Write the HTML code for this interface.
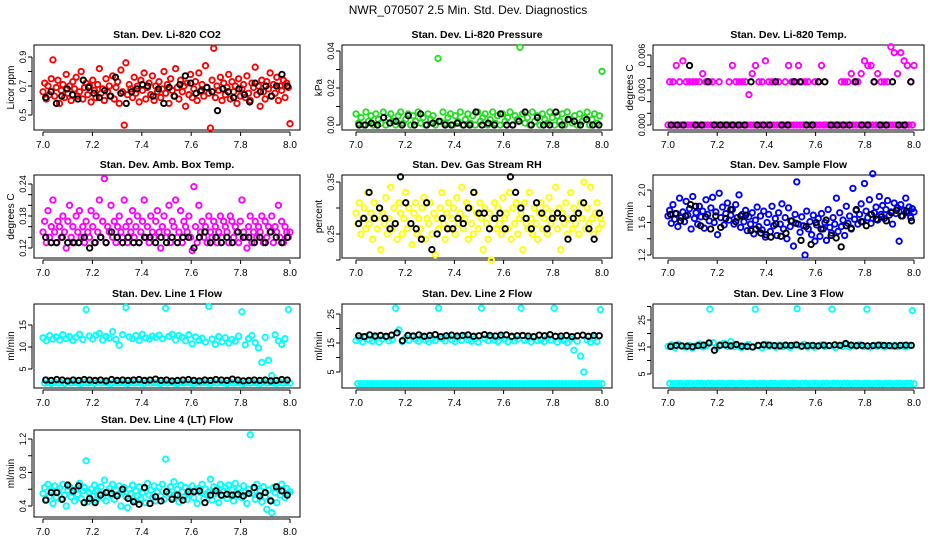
<!DOCTYPE html>
<html><head><meta charset="utf-8"><style>
html,body{margin:0;padding:0;background:#fff;}
svg{display:block;font-family:"Liberation Sans",sans-serif;}
</style></head><body>
<svg id="chart" width="936" height="540" viewBox="0 0 936 540" xmlns="http://www.w3.org/2000/svg">
<rect width="936" height="540" fill="#fff"/>
<text x="468" y="14" font-size="12" text-anchor="middle">NWR_070507  2.5 Min. Std. Dev. Diagnostics</text>
</svg>
<script>
const xTicks=[7.0,7.2,7.4,7.6,7.8,8.0];
const xTickLabels=["7.0","7.2","7.4","7.6","7.8","8.0"];
const xStart=7.0, xEnd=8.0;
const titles=["Stan. Dev. Li-820 CO2","Stan. Dev. Li-820 Pressure","Stan. Dev. Li-820 Temp.","Stan. Dev. Amb. Box Temp.","Stan. Dev. Gas Stream RH","Stan. Dev. Sample Flow","Stan. Dev. Line 1 Flow","Stan. Dev. Line 2 Flow","Stan. Dev. Line 3 Flow","Stan. Dev. Line 4 (LT) Flow"];
const yTitles=["Licor ppm","kPa","degrees C","degrees C","percent","ml/min","ml/min","ml/min","ml/min","ml/min"];
const colors=["#ff0000","#22dd22","#ff00ff","#ff00ff","#ffff00","#0000ff","#00ffff","#00ffff","#00ffff","#00ffff"];
const yTicks=[[0.5,0.6,0.7,0.8,0.9],[0,0.01,0.02,0.03,0.04],[0,0.001,0.002,0.003,0.004,0.005,0.006],[0.12,0.14,0.16,0.18,0.20,0.22,0.24],[0.20,0.25,0.30,0.35],[1.2,1.4,1.6,1.8,2.0],[5,10,15],[5,10,15,20,25],[5,10,15,20,25,30],[0.4,0.6,0.8,1.0,1.2]];
const yTickLabels=[["0.5","","0.7","","0.9"],["0.00","","0.02","","0.04"],["0.000","","","0.003","","","0.006"],["0.12","","","0.18","","","0.24"],["","0.25","","0.35"],["1.2","","1.6","","2.0"],["5","10","15"],["5","","15","","25"],["5","","15","","25",""],["0.4","","0.8","","1.2"]];
const yRef=[[0.9,0.5],[0.04,0],[0.006,0],[0.24,0.12],[0.35,0.25],[2.0,1.2],[15,5],[25,5],[25,5],[1.2,0.4]];

const co2=[0.66,0.72,0.61,0.70,0.64,0.75,0.88,0.63,0.69,0.74,0.58,0.67,0.71,0.62,0.78,0.65,0.70,0.60,0.73,0.68,0.76,0.63,0.66,0.80,0.61,0.69,0.72,0.64,0.70,0.59,0.74,0.67,0.62,0.71,0.82,0.65,0.68,0.60,0.75,0.66,0.70,0.63,0.77,0.61,0.69,0.73,0.58,0.81,0.66,0.43,0.86,0.64,0.71,0.68,0.62,0.76,0.65,0.70,0.59,0.74,0.67,0.79,0.61,0.69,0.72,0.64,0.77,0.60,0.70,0.66,0.73,0.62,0.68,0.80,0.65,0.71,0.58,0.75,0.67,0.63,0.82,0.69,0.61,0.74,0.66,0.70,0.56,0.72,0.64,0.78,0.62,0.68,0.73,0.60,0.79,0.66,0.71,0.63,0.84,0.69,0.65,0.41,0.74,0.96,0.62,0.70,0.67,0.76,0.60,0.72,0.64,0.69,0.78,0.61,0.73,0.66,0.70,0.58,0.75,0.63,0.68,0.71,0.62,0.77,0.65,0.60,0.72,0.69,0.83,0.64,0.70,0.56,0.74,0.66,0.61,0.73,0.68,0.79,0.63,0.71,0.65,0.76,0.60,0.70,0.67,0.74,0.62,0.72,0.69,0.44];
const co2Ref=[0.62,0.66,0.58,0.63,0.68,0.64,0.61,0.74,0.69,0.65,0.62,0.67,0.63,0.76,0.65,0.58,0.66,0.68,0.71,0.70,0.63,0.68,0.58,0.69,0.63,0.71,0.77,0.72,0.65,0.67,0.69,0.66,0.53,0.68,0.66,0.62,0.68,0.64,0.59,0.72,0.66,0.70,0.63,0.70,0.78,0.70];
const pres=[0.006,0.001,0.004,0.000,0.007,0.002,0.005,0.000,0.006,0.003,0.001,0.007,0.000,0.004,0.006,0.002,0.000,0.005,0.007,0.001,0.003,0.006,0.000,0.005,0.002,0.007,0.001,0.004,0.000,0.006,0.003,0.005,0.000,0.036,0.002,0.007,0.001,0.004,0.006,0.000,0.005,0.002,0.007,0.000,0.003,0.006,0.001,0.005,0.000,0.007,0.002,0.004,0.006,0.000,0.003,0.007,0.001,0.005,0.000,0.006,0.002,0.004,0.007,0.000,0.005,0.003,0.042,0.006,0.001,0.004,0.000,0.007,0.002,0.005,0.000,0.006,0.003,0.001,0.007,0.004,0.000,0.005,0.002,0.006,0.000,0.007,0.003,0.001,0.005,0.000,0.006,0.002,0.004,0.007,0.000,0.003,0.006,0.001,0.005,0.029];
const presRef=[0.000,0.000,0.001,0.000,0.004,0.001,0.002,0.000,0.005,0.000,0.006,0.000,0.001,0.002,0.000,0.000,0.001,0.000,0.000,0.007,0.000,0.001,0.000,0.006,0.000,0.000,0.002,0.007,0.000,0.004,0.000,0.000,0.007,0.000,0.003,0.002,0.000,0.003,0.000,0.000];
const ltemp=[0,0.0037,0,0.0037,0,0.0051,0,0.0037,0,0.0055,0,0.0037,0,0.0037,0,0.0037,0,0.0037,0,0.0037,0,0.0044,0,0.0037,0,0.0037,0,0.0037,0,0,0,0.0037,0,0,0,0,0,0.0037,0,0.0051,0,0.0037,0,0.0037,0,0.0037,0,0.0037,0,0.0026,0,0.0044,0,0.0051,0,0.0037,0,0.0037,0,0.0055,0,0.0037,0,0.0037,0,0.0037,0,0.0037,0,0,0,0.0037,0,0.0051,0,0.0037,0,0.0037,0,0.0051,0,0.0037,0,0.0037,0,0.0037,0,0,0,0.0037,0,0.0037,0,0.0051,0,0,0,0,0,0,0,0,0,0,0,0.0037,0,0.0037,0,0.0037,0,0.0044,0,0.0037,0,0.0037,0,0.0044,0,0.0055,0,0.0051,0,0.0051,0,0.0037,0,0.0044,0,0.0037,0,0.0037,0,0.0037,0,0.0067,0,0.0062,0,0.0044,0,0.0062,0,0.0055,0,0.0051,0,0.0037,0,0.0051];
const ltempRef=[0,0,0,0.0051,0,0,0.0037,0,0,0,0,0,0,0.0037,0,0,0,0.0037,0,0,0.0037,0.0037,0,0,0.0037,0.0037,0,0,0,0,0.0037,0,0,0.0037,0,0,0.0037,0,0,0.0037];
const boxT=[0.15,0.17,0.13,0.19,0.14,0.16,0.21,0.15,0.13,0.17,0.16,0.14,0.18,0.15,0.12,0.17,0.20,0.14,0.16,0.13,0.18,0.15,0.19,0.14,0.16,0.13,0.17,0.15,0.14,0.19,0.16,0.13,0.18,0.15,0.21,0.14,0.17,0.25,0.13,0.16,0.15,0.20,0.14,0.17,0.13,0.16,0.18,0.15,0.14,0.21,0.16,0.13,0.17,0.15,0.19,0.14,0.16,0.18,0.13,0.15,0.17,0.21,0.14,0.16,0.13,0.18,0.15,0.14,0.17,0.19,0.15,0.12,0.16,0.18,0.14,0.15,0.20,0.13,0.17,0.16,0.21,0.14,0.15,0.19,0.13,0.17,0.16,0.15,0.18,0.14,0.115,0.235,0.16,0.13,0.20,0.15,0.17,0.14,0.16,0.13,0.18,0.15,0.14,0.17,0.16,0.13,0.15,0.18,0.14,0.17,0.16,0.15,0.13,0.18,0.17,0.14,0.16,0.15,0.13,0.17,0.21,0.15,0.14,0.12,0.16,0.18,0.13,0.15,0.17,0.14,0.16,0.15,0.18,0.13,0.17,0.14,0.16,0.15,0.18,0.13,0.16,0.15,0.20,0.14,0.17,0.13,0.16,0.15,0.14,0.15];
const boxTRef=[0.14,0.13,0.13,0.14,0.13,0.13,0.13,0.14,0.12,0.13,0.14,0.13,0.15,0.14,0.13,0.14,0.13,0.13,0.14,0.14,0.13,0.14,0.13,0.14,0.13,0.14,0.14,0.12,0.14,0.15,0.13,0.14,0.13,0.14,0.13,0.15,0.14,0.14,0.13,0.14,0.13,0.15,0.14,0.13,0.14];
const rh=[0.29,0.27,0.31,0.25,0.28,0.30,0.26,0.33,0.27,0.29,0.24,0.31,0.28,0.26,0.30,0.22,0.29,0.27,0.32,0.25,0.28,0.34,0.26,0.30,0.27,0.24,0.31,0.29,0.25,0.28,0.33,0.26,0.30,0.27,0.23,0.29,0.31,0.25,0.28,0.26,0.30,0.32,0.24,0.28,0.27,0.31,0.25,0.29,0.21,0.28,0.26,0.30,0.33,0.27,0.24,0.29,0.31,0.26,0.28,0.30,0.25,0.32,0.27,0.29,0.34,0.26,0.28,0.31,0.24,0.30,0.27,0.25,0.33,0.29,0.26,0.31,0.28,0.22,0.30,0.27,0.24,0.29,0.20,0.28,0.31,0.26,0.30,0.27,0.25,0.32,0.28,0.29,0.26,0.33,0.24,0.30,0.27,0.31,0.25,0.28,0.29,0.22,0.31,0.27,0.26,0.33,0.28,0.25,0.30,0.27,0.24,0.29,0.31,0.26,0.28,0.30,0.25,0.32,0.27,0.29,0.28,0.34,0.26,0.30,0.22,0.29,0.27,0.31,0.25,0.28,0.33,0.26,0.30,0.27,0.29,0.25,0.31,0.28,0.35,0.26,0.30,0.27,0.34,0.28,0.25,0.29,0.31,0.26,0.28,0.27];
const rhRef=[0.27,0.28,0.33,0.28,0.30,0.28,0.26,0.27,0.36,0.31,0.27,0.26,0.24,0.31,0.22,0.25,0.28,0.26,0.26,0.28,0.27,0.30,0.33,0.29,0.29,0.26,0.28,0.29,0.26,0.36,0.33,0.30,0.28,0.26,0.31,0.29,0.26,0.28,0.29,0.28,0.24,0.28,0.29,0.31,0.26,0.24,0.29];
const sflow=[1.68,1.75,1.59,1.82,1.64,1.71,1.55,1.90,1.66,1.73,1.61,1.86,1.69,1.77,1.52,1.92,1.65,1.72,1.58,1.80,1.67,1.74,1.53,1.88,1.70,1.62,1.78,1.91,1.60,1.73,1.45,1.96,1.66,1.79,1.57,1.71,1.84,1.63,1.69,1.76,1.58,1.82,1.66,1.94,1.54,1.70,1.61,1.75,1.50,1.67,1.58,1.72,1.46,1.63,1.79,1.55,1.68,1.51,1.74,1.42,1.60,1.70,1.49,1.80,1.56,1.65,1.44,1.72,1.58,1.83,1.52,1.66,1.40,1.78,1.55,1.62,1.31,1.70,2.10,1.58,1.48,1.67,1.56,1.20,1.74,1.52,1.61,1.45,1.69,1.37,1.57,1.65,1.43,1.71,1.52,1.60,1.38,1.76,1.54,1.47,1.66,1.58,1.90,1.49,1.72,1.55,1.63,1.44,1.80,1.59,1.68,1.52,2.02,1.64,1.75,1.58,1.70,1.83,1.61,2.08,1.74,1.66,1.88,1.59,2.20,1.72,1.79,1.63,1.92,1.70,1.81,1.65,1.76,1.87,1.69,1.73,1.58,1.84,1.71,1.78,1.37,1.82,1.68,1.75,1.90,1.72,1.79,1.66,1.77,1.73];
const sflowRef=[1.70,1.71,1.62,1.68,1.82,1.80,1.56,1.67,1.52,1.68,1.54,1.65,1.76,1.61,1.68,1.69,1.50,1.52,1.47,1.45,1.42,1.58,1.43,1.47,1.62,1.59,1.38,1.55,1.33,1.60,1.52,1.63,1.44,1.41,1.30,1.56,1.53,1.76,1.61,1.56,1.70,1.64,1.67,1.62,1.72,1.75,1.68,1.74,1.62];
const line1=[12.1,1.8,11.4,1.9,12.6,1.7,11.8,2.0,12.3,1.8,11.6,1.9,12.8,1.7,11.9,2.0,12.4,1.8,11.5,1.9,12.2,1.8,12.9,1.7,11.7,2.0,18.5,1.8,12.5,1.9,11.8,1.7,12.7,2.0,13.1,1.8,11.6,1.9,12.4,1.8,12.0,1.7,13.5,2.0,11.7,1.8,10.4,1.9,12.8,1.8,19.0,1.7,12.3,2.0,11.9,1.8,12.6,1.9,11.5,1.8,12.9,1.7,12.1,2.0,11.8,1.8,12.5,1.9,12.2,1.8,12.7,1.7,11.9,2.0,18.8,1.8,12.4,1.9,12.9,1.8,11.6,1.7,12.6,2.0,12.2,1.8,11.4,1.9,12.8,1.8,10.7,1.7,12.3,2.0,11.5,1.8,12.0,1.9,11.1,1.8,19.2,1.7,11.8,2.0,10.6,1.8,12.4,1.9,11.2,1.8,12.1,1.7,10.9,2.0,11.7,1.8,11.3,1.9,12.5,1.8,18.0,1.7,10.5,2.0,11.9,1.8,12.6,1.9,11.0,1.8,9.8,1.7,6.5,2.0,12.2,1.8,7.0,1.9,3.5,1.8,12.8,1.7,11.4,2.0,10.6,1.8,11.9,1.9,18.5,1.8];
const line1Ref=[2.5,2.4,2.6,2.5,2.3,2.5,2.4,2.6,2.5,2.4,2.5,2.3,2.6,2.4,2.5,2.4,2.5,2.6,2.4,2.5,2.7,2.4,2.5,2.3,2.4,2.5,2.6,2.4,2.3,2.5,2.4,2.6,2.5,2.4,2.7,2.5,2.3,2.4,2.5,2.4,2.5,2.3,2.4,2.6,2.5];
const line2=[15.8,1,16.6,1,15.4,1,17.2,1,16.1,1,15.6,1,16.9,1,15.3,1,16.4,1,17.0,1,15.7,1,16.2,1,27.0,1,19.5,1,15.5,1,16.8,1,15.9,1,17.4,1,16.3,1,15.6,1,17.1,1,16.0,1,15.4,1,16.7,1,15.8,1,27.0,1,16.5,1,15.7,1,17.0,1,16.2,1,15.5,1,16.8,1,15.9,1,17.2,1,16.1,1,15.6,1,16.4,1,15.3,1,27.0,1,16.6,1,15.8,1,17.1,1,16.0,1,15.5,1,16.9,1,16.2,1,15.4,1,17.0,1,15.7,1,16.3,1,27.0,1,15.9,1,16.6,1,15.4,1,17.1,1,15.8,1,16.1,1,15.5,1,16.8,1,16.0,1,27.0,1,15.3,1,16.5,1,15.9,1,15.1,1,16.4,1,12.5,1,15.6,1,10.5,1,5.0,1,16.0,1,15.3,1,16.7,1,15.5,1,26.5,1];
const line2Ref=[17.5,17.2,17.8,17.4,17.6,17.3,17.7,18.5,15.8,17.6,17.4,17.8,17.3,17.6,17.9,17.2,17.5,17.7,17.4,17.6,17.8,17.3,17.5,17.9,17.6,17.4,17.7,17.8,17.3,17.5,17.6,17.4,17.2,17.7,17.5,17.9,17.3,17.4,17.6,17.2,17.5,17.7,17.3,17.6,17.5];
const line3=[15.2,1.5,15.8,1.4,14.7,1.5,16.0,1.5,15.3,1.4,14.9,1.5,15.6,1.5,14.6,1.4,15.4,1.5,16.1,1.5,15.0,1.4,15.5,1.5,29.0,1.5,16.6,1.4,14.8,1.5,15.9,1.5,16.4,1.4,15.2,1.5,17.0,1.5,15.1,1.4,15.7,1.5,14.8,1.5,15.3,1.4,15.9,1.5,15.0,1.5,29.0,1.4,15.4,1.5,14.7,1.5,16.0,1.4,15.2,1.5,15.6,1.5,14.9,1.4,15.8,1.5,15.1,1.5,15.5,1.4,14.8,1.5,15.7,1.5,29.2,1.4,15.3,1.5,16.0,1.5,15.0,1.4,15.6,1.5,14.9,1.5,15.4,1.4,15.8,1.5,15.1,1.5,15.5,1.4,29.0,1.5,14.8,1.5,15.7,1.4,15.2,1.5,16.0,1.5,15.0,1.4,15.5,1.5,15.3,1.5,15.9,1.4,15.1,1.5,29.0,1.5,14.9,1.4,15.6,1.5,15.2,1.5,15.8,1.4,15.0,1.5,15.5,1.5,15.3,1.4,15.7,1.5,15.1,1.5,15.6,1.4,15.0,1.5,15.4,1.5,28.5,1.4];
const line3Ref=[15.2,15.6,15.4,15.3,15.1,15.5,15.7,16.5,13.8,15.6,15.8,15.4,15.9,15.3,15.2,15.0,15.6,15.8,15.7,15.5,15.4,15.7,15.6,15.8,15.3,15.5,15.6,15.4,15.7,15.5,15.8,15.6,16.3,15.7,15.5,15.6,15.4,15.5,15.7,15.6,15.5,15.4,15.6,15.7,15.6];
const line4=[0.55,0.62,0.47,0.66,0.52,0.58,0.43,0.64,0.50,0.57,0.61,0.48,0.66,0.53,0.40,0.59,0.63,0.51,0.56,0.46,0.60,0.54,0.67,0.49,0.58,0.62,0.94,0.45,0.56,0.60,0.52,0.65,0.47,0.58,0.55,0.63,0.50,0.71,0.46,0.57,0.61,0.53,0.66,0.48,0.59,0.54,0.64,0.40,0.57,0.62,0.51,0.38,0.60,0.55,0.65,0.47,0.58,0.52,0.63,0.49,0.56,0.61,0.44,0.67,0.53,0.59,0.50,0.64,0.46,0.57,0.62,0.52,0.66,0.48,0.96,0.58,0.55,0.63,0.50,0.69,0.54,0.60,0.45,0.65,0.57,0.51,0.62,0.48,0.59,0.55,0.64,0.50,0.58,0.43,0.61,0.56,0.66,0.49,0.60,0.53,0.57,0.72,0.47,0.63,0.55,0.60,0.44,0.66,0.52,0.58,0.62,0.49,0.65,0.54,0.59,0.46,0.67,0.53,0.61,0.56,0.50,0.64,0.57,0.43,0.60,1.25,0.55,0.62,0.48,0.66,0.53,0.58,0.45,0.63,0.51,0.36,0.59,0.47,0.32,0.62,0.56,0.44,0.60,0.53,0.66,0.58,0.50,0.61,0.55,0.57];
const line4Ref=[0.47,0.56,0.56,0.48,0.65,0.58,0.64,0.44,0.49,0.44,0.53,0.56,0.55,0.52,0.60,0.49,0.45,0.42,0.62,0.43,0.51,0.46,0.57,0.48,0.53,0.47,0.57,0.57,0.58,0.44,0.53,0.58,0.53,0.54,0.53,0.54,0.52,0.55,0.62,0.52,0.56,0.46,0.63,0.58,0.53];

const mainSeries=[co2,pres,ltemp,boxT,rh,sflow,line1,line2,line3,line4];
const refSeries=[co2Ref,presRef,ltempRef,boxTRef,rhRef,sflowRef,line1Ref,line2Ref,line3Ref,line4Ref];

const NS="http://www.w3.org/2000/svg";
const svg=document.getElementById('chart');
const colBox=[[34,300],[342,612],[653,924]];
const colX=[[43,290],[356,602],[668,914]];
const rowBox=[[45,130],[175,258],[304,388],[430,517]];
const yPix=[[57,115],[51,125],[55,125],[184,248],[182,234],[190,255],[325,369],[314,372],[320,374],[439,506]];
function mk(tag,attrs,parent){const e=document.createElementNS(NS,tag);for(const k in attrs)e.setAttribute(k,attrs[k]);(parent||svg).appendChild(e);return e;}

for(let p=0;p<10;p++){
  const c=p%3,r=Math.floor(p/3);
  const [bl,br]=colBox[c],[bt,bb]=rowBox[r];
  const g=mk('g',{});
  
  
  const xs=v=>colX[c][0]+(v-xStart)/(xEnd-xStart)*(colX[c][1]-colX[c][0]);
  const [v1,v2]=yRef[p],[p1,p2]=yPix[p];
  const ys=v=>p1+(v-v1)/(v2-v1)*(p2-p1);
  const t=mk('text',{x:(bl+br)/2,y:bt-7,'font-size':10.5,'font-weight':'bold','text-anchor':'middle'},g);
  t.textContent=titles[p];
  
  
  const yt=mk('text',{x:0,y:0,'font-size':10,'text-anchor':'middle',transform:`translate(${bl-20},${(bt+bb)/2}) rotate(-90)`},g);
  yt.textContent=yTitles[p];
  
  
  mk('line',{x1:xs(xTicks[0]),x2:xs(xTicks[xTicks.length-1]),y1:bb+2,y2:bb+2,stroke:'#000'},g);
  xTicks.forEach((v,i)=>{
    mk('line',{x1:xs(v),x2:xs(v),y1:bb+2,y2:bb+6,stroke:'#000'},g);
    const l=mk('text',{x:xs(v),y:bb+18,'font-size':10,'text-anchor':'middle'},g);
    l.textContent=xTickLabels[i];
    
    
  });
  const yt0=yTicks[p];
  mk('line',{x1:bl-2,x2:bl-2,y1:ys(yt0[0]),y2:ys(yt0[yt0.length-1]),stroke:'#000'},g);
  yt0.forEach((v,i)=>{
    mk('line',{x1:bl-6,x2:bl-2,y1:ys(v),y2:ys(v),stroke:'#000'},g);
    if(yTickLabels[p][i]){
      const l=mk('text',{x:0,y:0,'font-size':9,'text-anchor':'middle',transform:`translate(${bl-8},${ys(v)}) rotate(-90)`},g);
      l.textContent=yTickLabels[p][i];
      
      
    }
  });
  const box=mk('rect',{x:bl,y:bt,width:br-bl,height:bb-bt,fill:'none',stroke:'#000'},g);
  
  
  const s=mainSeries[p],n=s.length;
  s.forEach((v,i)=>{
    const pt=mk('circle',{cx:xs(xStart+i/(n-1)*(xEnd-xStart)),cy:ys(v),r:2.7,fill:'none',stroke:colors[p],'stroke-width':1.9},g);
    
    
  });
  const rs=refSeries[p],m=rs.length;
  rs.forEach((v,i)=>{
    const pt=mk('circle',{cx:xs(xStart+(i+0.5)/m*(xEnd-xStart)),cy:ys(v),r:2.7,fill:'none',stroke:'#000','stroke-width':1.9},g);
    
    
  });
}
</script>
</body></html>
